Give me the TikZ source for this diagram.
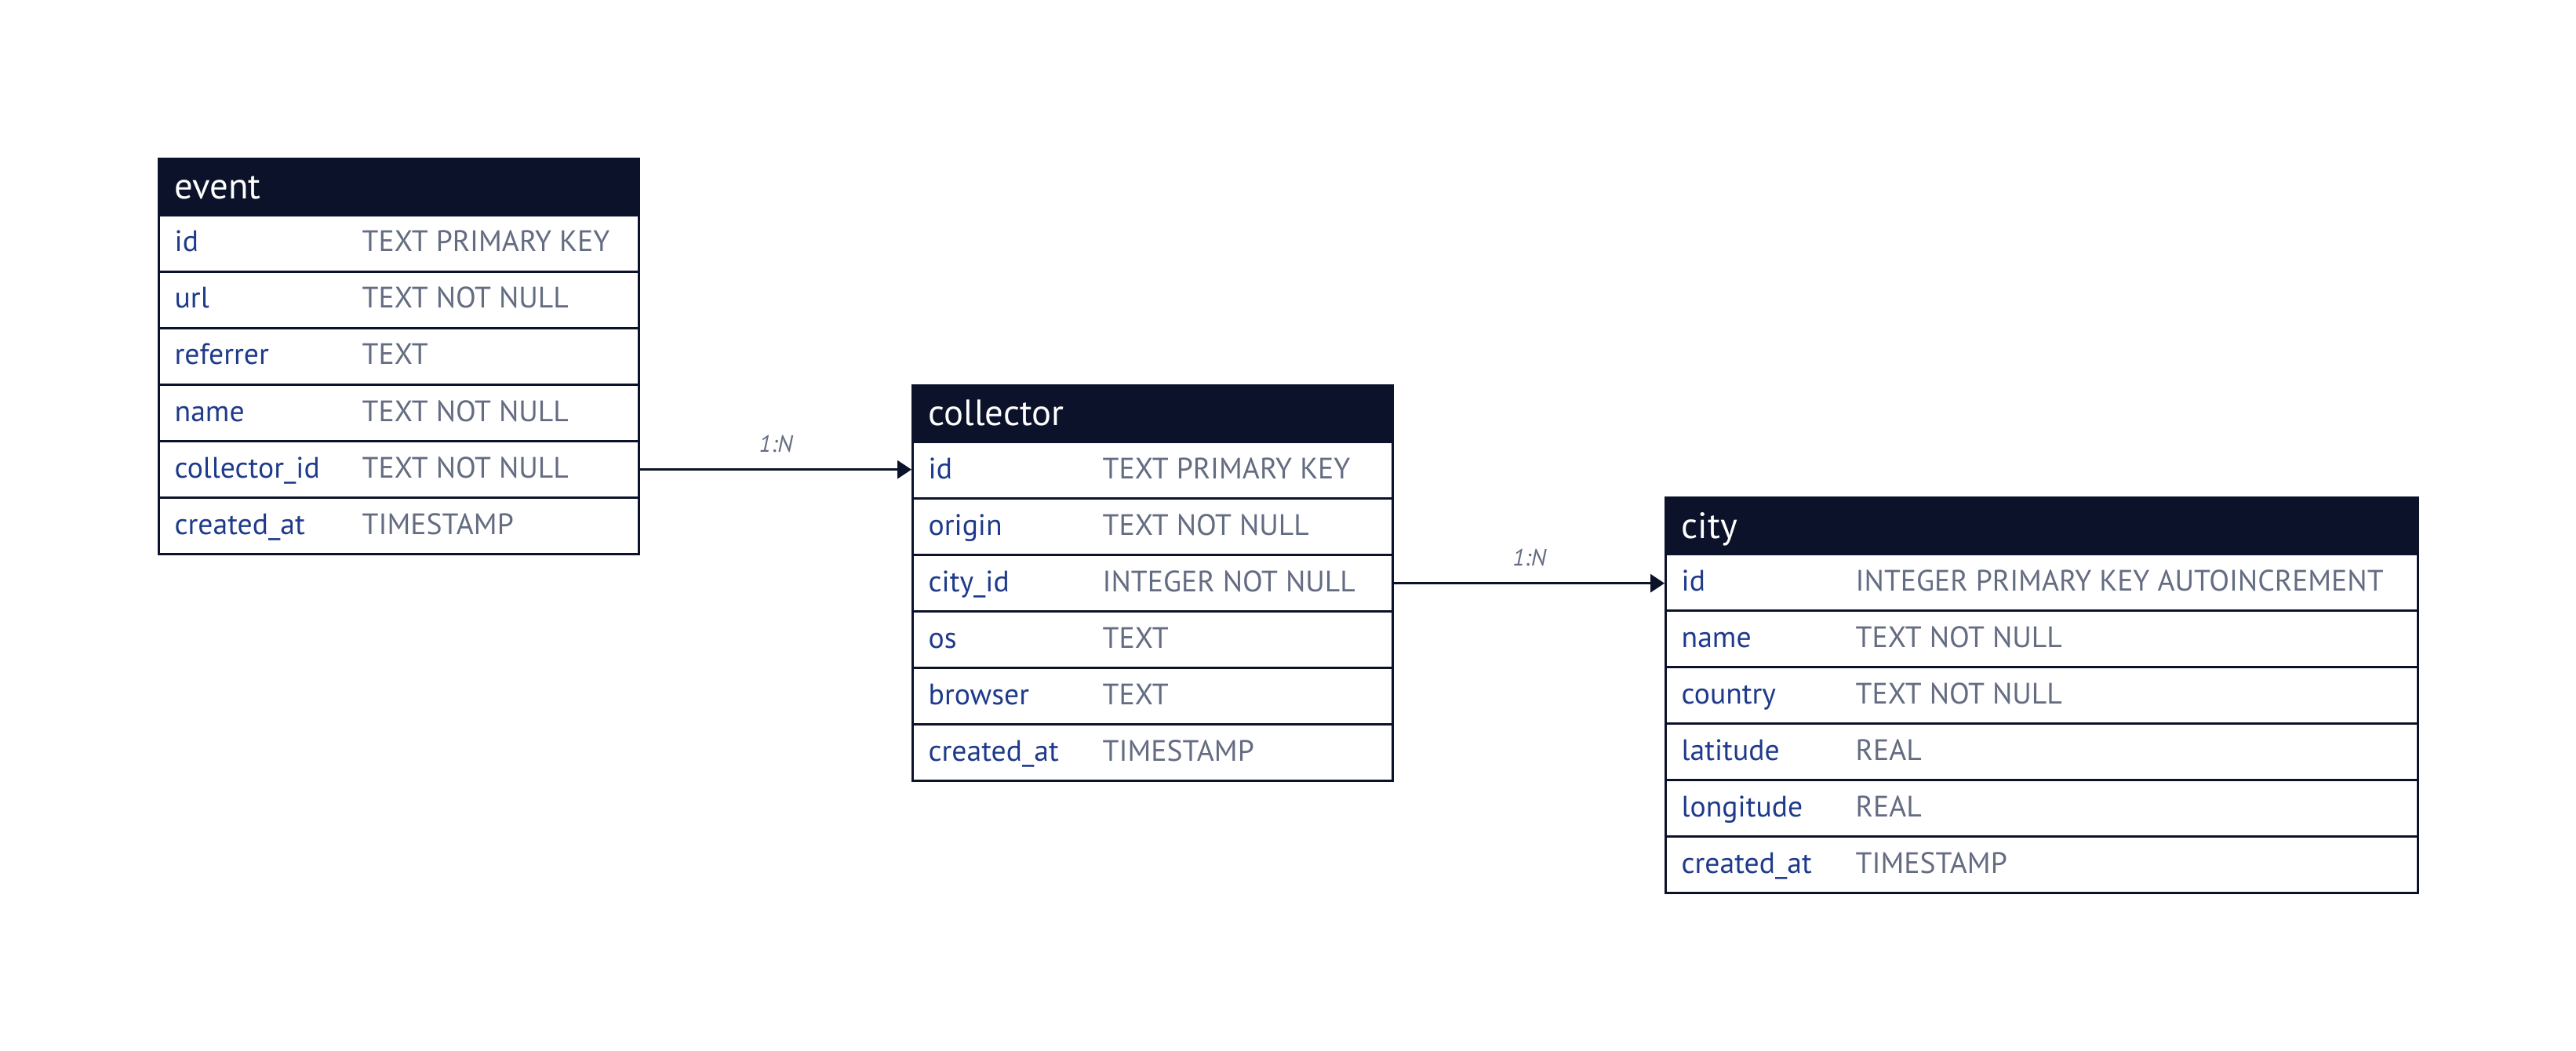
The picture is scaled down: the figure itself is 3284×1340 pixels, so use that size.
\documentclass[tikz,border=0pt]{standalone}
\usepackage{fontspec}
\setmainfont{PT Sans}
\usetikzlibrary{arrows.meta}
\definecolor{navy}{HTML}{0C1229}
\definecolor{fieldc}{HTML}{1E3A8A}
\definecolor{typec}{HTML}{646C82}
\tikzset{
  hdr/.style={draw=navy, fill=navy, line width=1pt, minimum height=21.6pt, inner sep=0pt, anchor=north west},
  hdrtext/.style={anchor=base west, inner sep=0pt, text=white, font=\fontsize{14}{16}\selectfont},
  rowbox/.style={draw=navy, fill=white, line width=1pt, minimum height=21.6pt, inner sep=0pt, anchor=north west},
  fieldtxt/.style={anchor=base west, inner sep=0pt, text=fieldc, font=\fontsize{11.3}{13}\selectfont},
  typetxt/.style={anchor=base west, inner sep=0pt, text=typec, font=\fontsize{11.3}{13}\selectfont},
  rel/.style={draw=navy, line width=1pt, -{Triangle[length=5.4pt, width=6.9pt]}},
  card/.style={anchor=base, inner sep=0pt, text=typec, font=\fontsize{9}{10}\selectfont\itshape, yshift=6.6pt}
}
\newcommand{\ertable}[6]{%
  \node[hdr, minimum width=#4*0.3pt] (#1-h) at (#2,#3) {};
  \node[hdrtext] (#1-t) at (#2+21,#3+53) {#1};
  \foreach \f/\t [count=\i] in {#6} {
    \node[rowbox, minimum width=#4*0.3pt] (#1-r\i) at (#2,#3+72*\i) {};
    \node[fieldtxt] (#1-f\i) at (#2+21,#3+72*\i+48) {\f};
    \node[typetxt] (#1-y\i) at (#2+#5,#3+72*\i+48) {\t};
  }%
}
\begin{document}
\begin{tikzpicture}[x=0.3pt,y=-0.3pt]
\useasboundingbox (0,0) rectangle (3284,1340);
\ertable{event}{201}{201}{612}{260}{id/TEXT PRIMARY KEY, url/TEXT NOT NULL, referrer/TEXT, name/TEXT NOT NULL, collector\_id/TEXT NOT NULL, created\_at/TIMESTAMP}
\ertable{collector}{1162}{490}{612}{243}{id/TEXT PRIMARY KEY, origin/TEXT NOT NULL, city\_id/INTEGER NOT NULL, os/TEXT, browser/TEXT, created\_at/TIMESTAMP}
\ertable{city}{2122}{633}{959}{243}{id/INTEGER PRIMARY KEY AUTOINCREMENT, name/TEXT NOT NULL, country/TEXT NOT NULL, latitude/REAL, longitude/REAL, created\_at/TIMESTAMP}
\draw[rel] (event-r5.east) -- (event-r5.east -| collector-r1.west) node[card, midway] (l1) {1:N};
\draw[rel] (collector-r3.east) -- (collector-r3.east -| city-r1.west) node[card, midway] (l2) {1:N};
\end{tikzpicture}
\end{document}
